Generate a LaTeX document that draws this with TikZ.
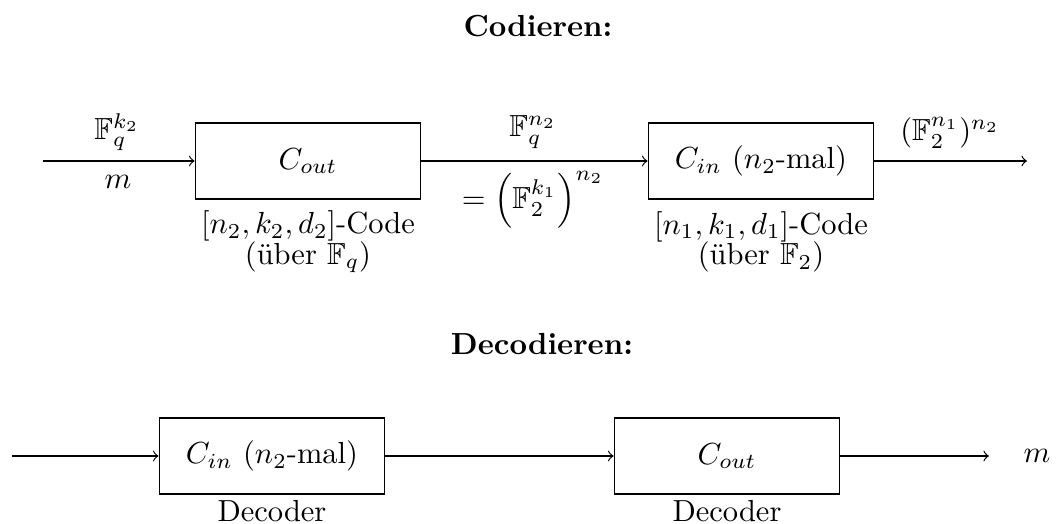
\documentclass[tikz,border=0pt]{standalone}
\usepackage{amssymb}
\begin{document}
\begin{tikzpicture}[x=0.328pt,y=-0.328pt,
  blk/.style={draw, minimum width=74pt, minimum height=24.9pt, inner sep=0pt},
  lbl/.style={inner sep=0pt},
  sub/.style={inner sep=0pt, align=center},
  ttl/.style={inner sep=0pt, font=\bfseries},
  conn/.style={->}]
\useasboundingbox (0,0) rectangle (1059,524);
% Codieren
\node[ttl] (t1) at (538,26) {Codieren:};
\coordinate (in1) at (43,161);
\node[blk] (b1) at (308,161) {$C_{out}$};
\node[blk] (b2) at (761,161) {$C_{in}$ ($n_2$-mal)};
\coordinate (out1) at (1027,161);
\draw[conn] (in1) -- (b1);
\draw[conn] (b1) -- (b2);
\draw[conn] (b2) -- (out1);
\node[lbl] (l1) at (117,132) {$\mathbb{F}_q^{k_2}$};
\node[lbl] (l2) at (118,182) {$m$};
\node[lbl] (l3) at (533,132) {$\mathbb{F}_q^{n_2}$};
\node[lbl] (l4) at (533,200) {$=\left(\mathbb{F}_2^{k_1}\right)^{n_2}$};
\node[lbl] (l5) at (950,133) {$(\mathbb{F}_2^{n_1})^{n_2}$};
\node[sub] (c1) at (308,242) {$[n_2,k_2,d_2]$-Code\\[-2pt](über $\mathbb{F}_q$)};
\node[sub] (c2) at (761,242) {$[n_1,k_1,d_1]$-Code\\[-2pt](über $\mathbb{F}_2$)};
% Decodieren
\node[ttl] (t2) at (542,344) {Decodieren:};
\coordinate (in2) at (12,456);
\node[blk] (b3) at (272,456) {$C_{in}$ ($n_2$-mal)};
\node[blk] (b4) at (727,456) {$C_{out}$};
\coordinate (out2) at (989,456);
\node[lbl] (m2) at (1037,456) {$m$};
\draw[conn] (in2) -- (b3);
\draw[conn] (b3) -- (b4);
\draw[conn] (b4) -- (out2);
\node[lbl] (d1) at (272,511) {Decoder};
\node[lbl] (d2) at (727,511) {Decoder};
\end{tikzpicture}
\end{document}
